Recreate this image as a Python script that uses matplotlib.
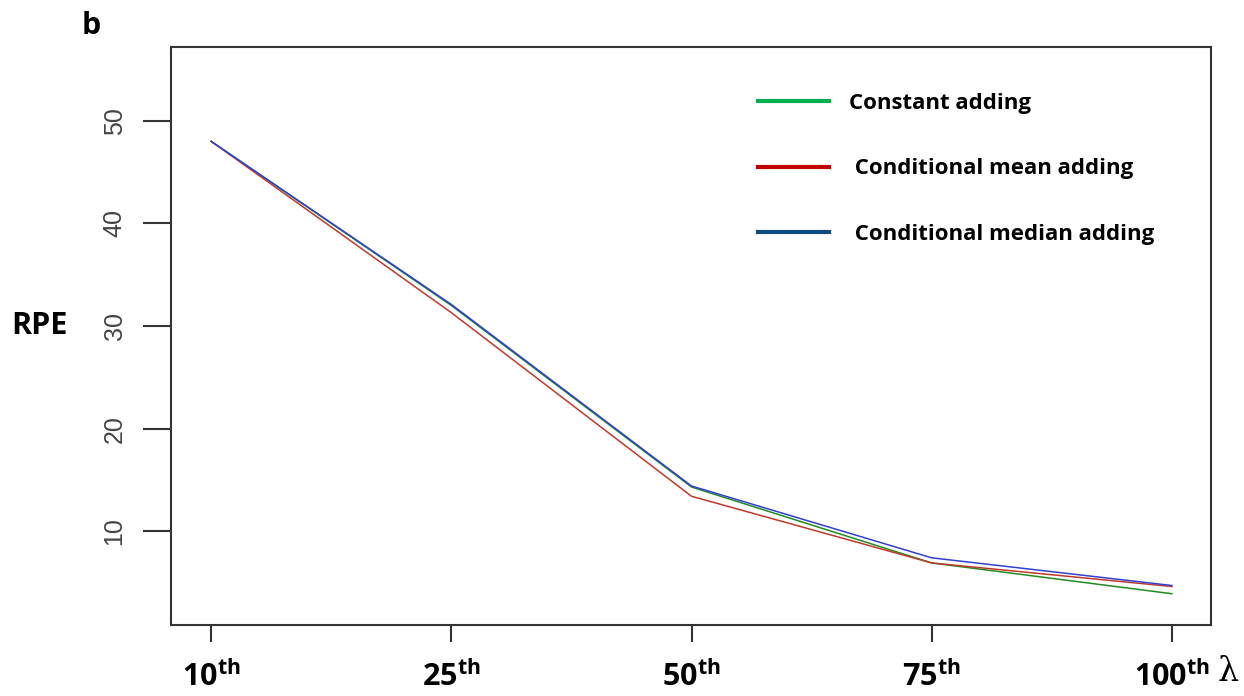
import matplotlib
matplotlib.use("Agg")
import matplotlib.pyplot as plt
from matplotlib.lines import Line2D

plt.rcParams['mathtext.fontset'] = 'custom'
plt.rcParams['mathtext.bf'] = 'Open Sans:bold'
plt.rcParams['mathtext.rm'] = 'Open Sans'

# data
percentiles = ['10', '25', '50', '75', '100']
constant_adding = [48.0, 32.0, 14.3, 6.9, 3.9]
cond_mean_adding = [48.0, 31.3, 13.4, 6.9, 4.6]
cond_median_adding = [48.0, 32.1, 14.4, 7.4, 4.7]

x = list(range(1, len(percentiles) + 1))

fig = plt.figure(figsize=(12.44, 6.96), dpi=100)
ax = fig.add_axes([0.1375, 0.102, 0.836, 0.8305])

ax.plot(x, constant_adding, color='#228B22', lw=1.1)
ax.plot(x, cond_mean_adding, color='#C0392B', lw=1.1)
ax.plot(x, cond_median_adding, color='#3040D0', lw=1.1)

ax.set_xlim(0.833, 5.163)
ax.set_ylim(0.85, 57.2)

ax.set_yticks([10, 20, 30, 40, 50])
ax.set_yticklabels(['10', '20', '30', '40', '50'], rotation=90, va='center',
                   fontsize=18, color='#444444', family='Liberation Sans')
ax.set_xticks(x)
ax.set_xticklabels([r'$\mathbf{%s^{th}}$' % p for p in percentiles], fontsize=22)

for s in ax.spines.values():
    s.set_linewidth(1.5)
    s.set_color('#333333')
ax.tick_params(axis='y', length=20, width=1.5, color='#333333', pad=12)
ax.tick_params(axis='x', length=12, width=1.5, color='#333333', pad=13)

fig.text(0.009, 0.532, 'RPE', fontsize=22, fontweight='bold', family='Open Sans',
         va='center', ha='left')
fig.text(0.066, 0.962, 'b', fontsize=22, fontweight='bold', family='Open Sans',
         va='center', ha='left')
fig.text(0.979, 0.034, 'λ', fontsize=24, family='DejaVu Serif',
         va='center', ha='left')

handles = [Line2D([], [], color='#00B050', lw=3),
           Line2D([], [], color='#C00000', lw=3),
           Line2D([], [], color='#0F4C81', lw=3)]
labels = ['Constant adding', ' Conditional mean adding', ' Conditional median adding']
leg = ax.legend(handles, labels, loc='upper left', bbox_to_anchor=(0.545, 0.955),
                frameon=False, handlelength=3.2, handletextpad=0.9,
                labelspacing=2.0, prop={'family': 'Open Sans', 'weight': 'bold', 'size': 16})

fig.savefig('out.png', dpi=100)
